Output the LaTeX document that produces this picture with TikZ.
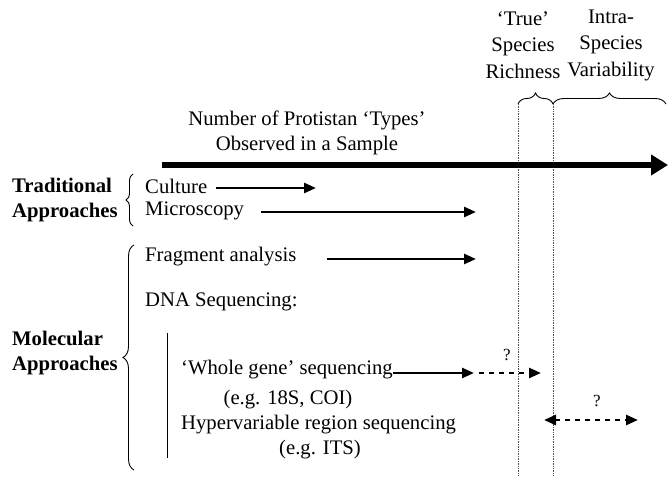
\documentclass[tikz,border=0pt]{standalone}
\usepackage{fontspec}
\setmainfont{Liberation Serif}
\usetikzlibrary{arrows.meta,decorations.pathreplacing}
\begin{document}
\begin{tikzpicture}[x=1pt,y=-1pt,
  font=\fontsize{20.7}{25}\selectfont,
  lbl/.style={inner sep=0pt, anchor=west},
  ctr/.style={inner sep=0pt, align=center},
  bold/.style={inner sep=0pt, align=left, anchor=west, font=\fontsize{20.7}{25}\selectfont\bfseries},
  arr/.style={line width=2.6pt, -{Triangle[length=12pt,width=10pt]}},
  darr/.style={line width=2.6pt, dash pattern=on 5pt off 5pt, -{Triangle[length=12pt,width=10pt]}},
  ddarr/.style={line width=2.6pt, dash pattern=on 5pt off 5pt, {Triangle[length=12pt,width=10pt]}-{Triangle[length=12pt,width=10pt]}},
  dot/.style={line width=0.7pt, densely dotted, black!70},
  brc/.style={decorate, decoration={brace, amplitude=11pt}, line width=0.9pt},
  qm/.style={inner sep=0pt, font=\fontsize{17}{20}\selectfont}
]
\useasboundingbox (0,0) rectangle (668,476);

% header labels
\node[ctr, font=\fontsize{20.7}{26.5}\selectfont] (trueSR) at (523,45) {‘True’\\Species\\Richness};
\node[ctr, font=\fontsize{20.7}{26.5}\selectfont] (intra) at (611,45) {Intra-\\Species\\Variability};
\coordinate (b1) at (518,104);
\coordinate (b2) at (553,104);
\coordinate (b3) at (666,104);
\draw[brc] (b1) -- (b2);
\draw[brc] (b2) -- (b3);
\coordinate (d1b) at (518,476);
\coordinate (d2b) at (553,476);
\draw[dot] (b1) -- (d1b);
\draw[dot] (b2) -- (d2b);

% main axis
\node[ctr] (title) at (307,133) {Number of Protistan ‘Types’\\Observed in a Sample};
\coordinate (ax0) at (162,165);
\coordinate (ax1) at (668,165);
\draw[line width=6pt, -{Triangle[length=17pt,width=20pt]}] (ax0) -- (ax1);

% traditional
\node[bold] (trad) at (12,200) {Traditional\\Approaches};
\coordinate (tb0) at (133,226);
\coordinate (tb1) at (133,174);
\draw[brc, decoration={amplitude=7pt}] (tb0) -- (tb1);
\node[lbl] (culture) at (145,186) {Culture};
\node[lbl] (micro) at (145,211) {Microscopy};
\coordinate (c1) at (316,188);
\coordinate (m1) at (476,212);
\draw[arr] ([xshift=9pt,yshift=-2pt]culture.east) -- (c1);
\draw[arr] ([xshift=17pt]micro.east |- m1) -- (m1);

% molecular
\node[bold] (mol) at (12,353) {Molecular\\Approaches};
\coordinate (mb0) at (134,470);
\coordinate (mb1) at (134,245);
\draw[brc, decoration={amplitude=11pt}] (mb0) -- (mb1);
\node[lbl] (frag) at (145,257) {Fragment analysis};
\coordinate (f1) at (476,259);
\draw[arr] ([xshift=30pt]frag.east |- f1) -- (f1);
\node[lbl] (dna) at (145,302) {DNA Sequencing:};
\coordinate (v0) at (167,333);
\coordinate (v1) at (167,458);
\draw[line width=0.9pt] (v0) -- (v1);

\node[lbl] (whole) at (181,370) {‘Whole gene’ sequencing};
\node[ctr] (eg1) at (288,400) {(e.g. 18S, COI)};
\coordinate (w1) at (474,373);
\coordinate (w2) at (541,373);
\draw[arr] (whole.east |- w1) -- (w1);
\draw[darr] ([xshift=5pt]w1) -- (w2);
\node[qm] (q1) at (507,355) {?};

\node[lbl] (hyper) at (181,425) {Hypervariable region sequencing};
\node[ctr] (eg2) at (320,450) {(e.g. ITS)};
\coordinate (h0) at (544,420);
\coordinate (h1) at (638,420);
\draw[ddarr] (h0) -- (h1);
\node[qm] (q2) at (597,401) {?};
\end{tikzpicture}
\end{document}
